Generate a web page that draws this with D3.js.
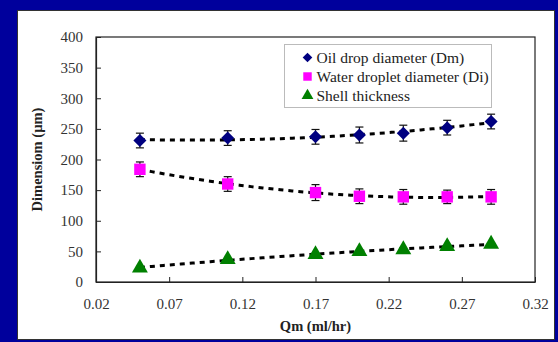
<!DOCTYPE html>
<html>
<head>
<meta charset="utf-8">
<script src="https://cdn.jsdelivr.net/npm/d3@7"></script>
<style>
  html, body { margin: 0; padding: 0; background: #00009c; }
  svg { display: block; }
  svg text { font-family: 'Liberation Serif', 'Times New Roman', 'DejaVu Serif', serif; }
</style>
</head>
<body>
<svg id="chart"></svg>
<script>
const qm = [0.05, 0.11, 0.17, 0.20, 0.23, 0.26, 0.29];
const oilDrop = [231, 235, 237, 240, 243, 252, 262];
const waterDroplet = [184, 160, 146, 140, 139, 139, 139];
const shellThickness = [23, 37, 45, 50, 53, 58, 62];
const oilErr = [12, 12, 12, 13, 13, 12, 12];
const waterErr = [12, 12, 13, 12, 12, 11, 12];
const xTicks = [0.02, 0.07, 0.12, 0.17, 0.22, 0.27, 0.32];
const yTicks = [0, 50, 100, 150, 200, 250, 300, 350, 400];
const seriesNames = ['Oil drop diameter (Dm)', 'Water droplet diameter (Di)', 'Shell thickness'];

const svgWidth = 558;
const svgHeight = 342;
const margin = { top: 37, right: 23, bottom: 60, left: 96 };
const chartWidth = svgWidth - margin.left - margin.right;
const chartHeight = svgHeight - margin.top - margin.bottom;

const svg = d3.select('#chart')
  .attr('width', svgWidth)
  .attr('height', svgHeight);

// white panel
svg.append('rect')
  .attr('x', 17.5).attr('y', 10.5)
  .attr('width', 537).attr('height', 329)
  .attr('fill', '#fff')
  .attr('stroke', '#333');

const g = svg.append('g')
  .attr('transform', `translate(${margin.left}, ${margin.top})`);

const xScale = d3.scaleLinear().domain([0.02, 0.32]).range([0, chartWidth]);
const yScale = d3.scaleLinear().domain([0, 400]).range([chartHeight, 0]);

g.append('rect')
  .attr('x', 0).attr('y', 0)
  .attr('width', chartWidth).attr('height', chartHeight)
  .attr('fill', 'none').attr('stroke', '#222').attr('stroke-width', 1.2);

const xAxis = g.append('g')
  .attr('transform', `translate(0, ${chartHeight})`)
  .call(d3.axisBottom(xScale).tickValues(xTicks).tickFormat(d3.format('.2f')).tickSizeInner(-5).tickSizeOuter(0).tickPadding(16));
const yAxis = g.append('g')
  .call(d3.axisLeft(yScale).tickValues(yTicks).tickFormat(d3.format('d')).tickSizeInner(-5).tickSizeOuter(0).tickPadding(13));

[xAxis, yAxis].forEach(a => {
  a.attr('font-family', null);
  a.select('.domain').attr('stroke', '#222').attr('stroke-width', 1.2);
  a.selectAll('.tick line').attr('stroke', '#222');
  a.selectAll('.tick text').attr('font-size', 15).attr('fill', '#333');
});

// quadratic least squares trendline
function quadFit(xs, ys) {
  let s = [0, 0, 0, 0, 0], t = [0, 0, 0];
  xs.forEach((x, i) => {
    for (let k = 0; k < 5; k++) s[k] += Math.pow(x, k);
    for (let k = 0; k < 3; k++) t[k] += ys[i] * Math.pow(x, k);
  });
  const m = [[s[0], s[1], s[2], t[0]], [s[1], s[2], s[3], t[1]], [s[2], s[3], s[4], t[2]]];
  for (let i = 0; i < 3; i++) {
    for (let j = i + 1; j < 3; j++) {
      const f = m[j][i] / m[i][i];
      for (let k = i; k < 4; k++) m[j][k] -= f * m[i][k];
    }
  }
  const c = [0, 0, 0];
  for (let i = 2; i >= 0; i--) {
    let v = m[i][3];
    for (let k = i + 1; k < 3; k++) v -= m[i][k] * c[k];
    c[i] = v / m[i][i];
  }
  return x => c[0] + c[1] * x + c[2] * x * x;
}

const series = [
  { values: oilDrop, err: oilErr, color: '#000080', symbol: d3.symbolSquare, size: 85, rot: 45 },
  { values: waterDroplet, err: waterErr, color: '#ff00ff', symbol: d3.symbolSquare, size: 130, rot: 0 },
  { values: shellThickness, err: null, color: '#008000', symbol: d3.symbolTriangle, size: 110, rot: 0 }
];

const line = d3.line().x(d => xScale(d[0])).y(d => yScale(d[1]));

series.forEach(s => {
  const fit = quadFit(qm, s.values);
  const pts = d3.range(0, 61).map(i => {
    const x = qm[0] + (qm[qm.length - 1] - qm[0]) * i / 60;
    return [x, fit(x)];
  });
  g.append('path')
    .attr('d', line(pts))
    .attr('fill', 'none')
    .attr('stroke', '#000')
    .attr('stroke-width', 3)
    .attr('stroke-dasharray', '5,5');

  if (s.err) {
    const eb = g.append('g').attr('stroke', '#111').attr('stroke-width', 1.2);
    qm.forEach((x, i) => {
      const cx = xScale(x);
      const y1 = yScale(s.values[i] + s.err[i]);
      const y2 = yScale(s.values[i] - s.err[i]);
      eb.append('line').attr('x1', cx).attr('x2', cx).attr('y1', y1).attr('y2', y2);
      eb.append('line').attr('x1', cx - 4).attr('x2', cx + 4).attr('y1', y1).attr('y2', y1);
      eb.append('line').attr('x1', cx - 4).attr('x2', cx + 4).attr('y1', y2).attr('y2', y2);
    });
  }

  g.selectAll(null)
    .data(qm)
    .enter().append('path')
    .attr('d', d3.symbol().type(s.symbol).size(s.size))
    .attr('transform', (d, i) => `translate(${xScale(d)}, ${yScale(s.values[i])}) rotate(${s.rot})`)
    .attr('fill', s.color);
});

// legend
const legend = svg.append('g').attr('transform', 'translate(284.5, 44.5)');
legend.append('rect')
  .attr('width', 207).attr('height', 63)
  .attr('fill', '#fff').attr('stroke', '#bbb');
series.forEach((s, i) => {
  legend.append('path')
    .attr('d', d3.symbol().type(s.symbol).size(s.size * 0.55))
    .attr('transform', `translate(23, ${13 + i * 19}) rotate(${s.rot})`)
    .attr('fill', s.color);
  legend.append('text')
    .attr('x', 32).attr('y', 18 + i * 19)
    .attr('font-size', 15.5)
    .attr('fill', '#222')
    .text(seriesNames[i]);
});

// axis titles
svg.append('text')
  .attr('x', margin.left + chartWidth / 2).attr('y', 331)
  .attr('text-anchor', 'middle')
  .attr('font-size', 14.5).attr('font-weight', 'bold')
  .attr('fill', '#222')
  .text('Qm (ml/hr)');

svg.append('text')
  .attr('transform', `translate(42, ${margin.top + chartHeight / 2}) rotate(-90)`)
  .attr('text-anchor', 'middle')
  .attr('font-size', 14.5).attr('font-weight', 'bold')
  .attr('fill', '#222')
  .text('Dimensiom (µm)');
</script>
</body>
</html>
